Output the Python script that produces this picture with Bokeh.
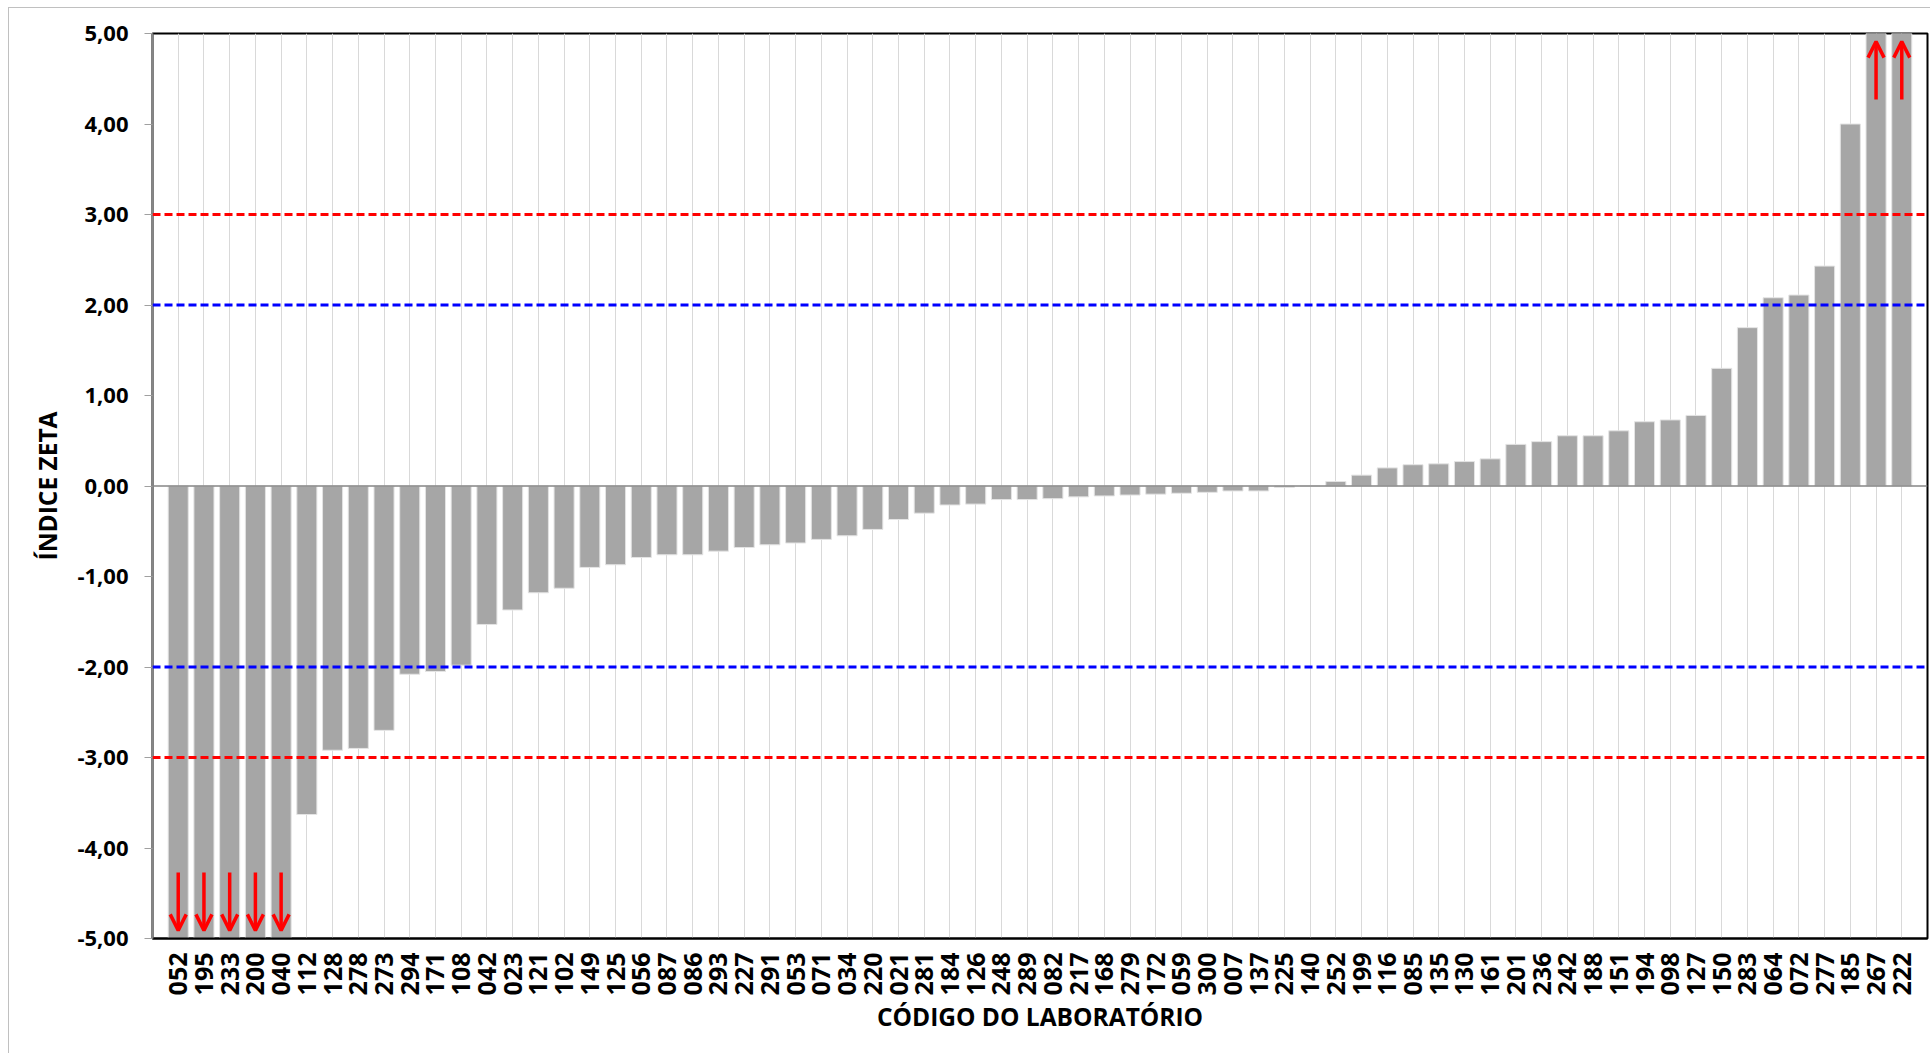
from bokeh.plotting import figure
from bokeh.models import Range1d, FixedTicker, Span, Arrow, OpenHead, ColumnDataSource
from bokeh.embed import file_html
from bokeh.resources import INLINE

labs = ["052","195","233","200","040","112","128","278","273","294",
        "171","108","042","023","121","102","149","125","056","087",
        "086","293","227","291","053","071","034","220","021","281",
        "184","126","248","289","082","217","168","279","172","059",
        "300","007","137","225","140","252","199","116","085","135",
        "130","161","201","236","242","188","151","194","098","127",
        "150","283","064","072","277","185","267","222"]
vals = [-5.00,-5.00,-5.00,-5.00,-5.00,-3.63,-2.92,-2.90,-2.70,-2.08,
        -2.05,-1.98,-1.53,-1.37,-1.18,-1.13,-0.90,-0.87,-0.79,-0.76,
        -0.76,-0.72,-0.68,-0.65,-0.63,-0.59,-0.55,-0.48,-0.37,-0.30,
        -0.21,-0.20,-0.15,-0.15,-0.14,-0.12,-0.11,-0.10,-0.09,-0.08,
        -0.07,-0.055,-0.055,-0.015,0.00,0.05,0.12,0.20,0.235,0.245,
        0.27,0.30,0.46,0.49,0.555,0.555,0.61,0.71,0.73,0.78,
        1.30,1.75,2.08,2.11,2.43,4.00,5.00,5.00]
yticks = [-5, -4, -3, -2, -1, 0, 1, 2, 3, 4, 5]
warn_limits = [2, -2]
action_limits = [3, -3]
assert len(labs) == len(vals)

idx = list(range(len(labs)))
src = ColumnDataSource(dict(x=idx, top=vals, lab=labs))

p = figure(width=1922, height=1046, output_backend="svg", toolbar_location=None,
           x_range=Range1d(-1, len(labs)), y_range=Range1d(-5, 5),
           min_border_left=143, min_border_top=25, min_border_right=4, min_border_bottom=116)
p.styles = {"margin": "7px 0px 0px 8px",
            "border-left": "1px solid #c0c0c0", "border-top": "1px solid #c0c0c0"}

# grid
p.xgrid.ticker = FixedTicker(ticks=idx)
p.xgrid.grid_line_color = "#d9d9d9"
p.xgrid.grid_line_width = 1
p.ygrid.grid_line_color = None

p.vbar(x="x", top="top", bottom=0, width=0.78, source=src,
       fill_color="#a6a6a6", line_color="#e4e4e4", line_width=1)

p.add_layout(Span(location=0, dimension="width", line_color="#868686", line_width=1.5))
for v in action_limits:
    p.add_layout(Span(location=v, dimension="width", line_color="#ff0000", line_width=3, line_dash="8 4"))
for v in warn_limits:
    p.add_layout(Span(location=v, dimension="width", line_color="#0000ff", line_width=3, line_dash="8 4"))

# out-of-range arrows
for i, v in zip(idx, vals):
    if v <= -5:
        p.add_layout(Arrow(x_start=i, y_start=-4.27, x_end=i, y_end=-4.91,
                           line_color="#ff0000", line_width=3.5,
                           end=OpenHead(size=16, line_color="#ff0000", line_width=3.5)))
    elif v >= 5:
        p.add_layout(Arrow(x_start=i, y_start=4.27, x_end=i, y_end=4.91,
                           line_color="#ff0000", line_width=3.5,
                           end=OpenHead(size=16, line_color="#ff0000", line_width=3.5)))

p.outline_line_color = "black"
p.outline_line_width = 2

# x axis
xa = p.xaxis[0]
xa.ticker = FixedTicker(ticks=idx)
xa.major_label_overrides = {i: l for i, l in zip(idx, labs)}
xa.major_label_orientation = 1.5707963
xa.major_tick_out = 0
xa.major_tick_in = 0
xa.minor_tick_out = 0
xa.minor_tick_in = 0
xa.axis_line_color = "black"
xa.axis_line_width = 2
xa.major_label_standoff = 14
xa.major_label_text_font = "Open Sans"
xa.major_label_text_font_style = "bold"
xa.major_label_text_font_size = "25px"
xa.major_label_text_color = "black"
xa.axis_label = "CÓDIGO DO LABORATÓRIO"
xa.axis_label_text_font = "Open Sans"
xa.axis_label_text_font_style = "bold"
xa.axis_label_text_font_size = "24.5px"
xa.axis_label_text_color = "black"
xa.axis_label_standoff = 2

# y axis
ya = p.yaxis[0]
ya.ticker = FixedTicker(ticks=yticks)
ya.major_label_overrides = {t: f"{t:.2f}".replace(".", ",") for t in yticks}
ya.major_tick_out = 8
ya.major_tick_in = 0
ya.minor_tick_out = 0
ya.minor_tick_in = 0
ya.major_tick_line_color = "#a0a0a0"
ya.axis_line_color = "#868686"
ya.axis_line_width = 2
ya.major_label_standoff = 16
ya.major_label_text_font = "Open Sans"
ya.major_label_text_font_style = "bold"
ya.major_label_text_font_size = "22px"
ya.major_label_text_color = "black"
ya.axis_label = "ÍNDICE ZETA"
ya.axis_label_text_font = "Open Sans"
ya.axis_label_text_font_style = "bold"
ya.axis_label_text_font_size = "24.5px"
ya.axis_label_text_color = "black"
ya.axis_label_standoff = 10

open("out.html", "w").write(file_html(p, INLINE))
